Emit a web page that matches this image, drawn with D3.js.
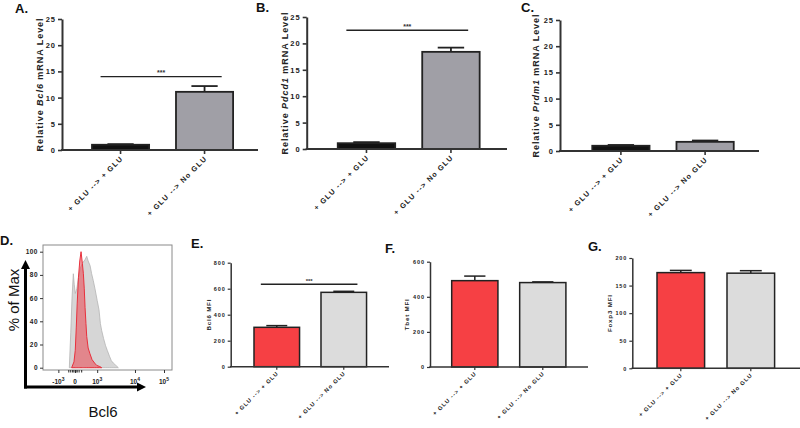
<!DOCTYPE html>
<html><head><meta charset="utf-8">
<script src="https://cdn.jsdelivr.net/npm/d3@7"></script>
<style>
html,body{margin:0;padding:0;background:#fff;}
svg{display:block;font-family:Arial,"Liberation Sans",sans-serif;}
</style></head>
<body><svg id="c" width="800" height="428"></svg>
<script>
// ---------- DATA ----------
const categories = ["+ GLU --> + GLU", "+ GLU --> No GLU"];

const bcl6Mrna = [1.0, 11.1];
const bcl6MrnaErr = [0.12, 1.1];
const pdcd1Mrna = [1.1, 18.4];
const pdcd1MrnaErr = [0.2, 0.8];
const prdm1Mrna = [1.0, 1.75];
const prdm1MrnaErr = [0.15, 0.25];

const bcl6Mfi = [303, 572];
const bcl6MfiErr = [13, 8];
const tbetMfi = [492, 481];
const tbetMfiErr = [26, 4];
const foxp3Mfi = [173.5, 172.5];
const foxp3MfiErr = [4, 4.5];

const mrnaTicks = [0, 5, 10, 15, 20, 25];
const bcl6MfiTicks = [0, 200, 400, 600, 800];
const tbetMfiTicks = [0, 200, 400, 600];
const foxp3MfiTicks = [0, 50, 100, 150, 200];

const sigBcl6Mrna = 14;
const sigPdcd1Mrna = 22.5;
const sigBcl6Mfi = 634;

// histogram (channel units on display scale, % of max)
const histPctTicks = [0, 20, 40, 60, 80, 100];
const histChanTicks = [119, 248, 420, 713, 938];
const histChanLabels = [["-10", "3"], ["0", ""], ["10", "3"], ["10", "4"], ["10", "5"]];
const histMinorTicks = [200, 215, 230, 240, 255, 265, 280, 300];
const greyHist = [[204,0],[215,30],[225,60],[235,81],[242,72],[250,64],[262,68],[275,78],[290,86],[305,90],[325,93],[339,96],[350,92],[365,88],[377,81],[390,75],[403,68],[420,58],[434,50],[445,38],[455,32],[470,25],[485,19],[498,15],[515,10],[530,6],[545,4],[565,2],[584,0]];
const redHist = [[222,0],[240,5],[250,15],[258,35],[265,55],[275,78],[285,92],[295,100],[305,90],[313,81],[320,68],[326,52],[333,38],[339,27],[350,17],[364,12],[380,7],[400,4],[416,2],[440,1],[455,0]];

// ---------- DRAW ----------
const svg = d3.select("#c");
const FONT = 'Arial,"Liberation Sans",sans-serif';

function barPanel(cfg) {
  const g = svg.append("g");
  const x = d3.scaleBand().domain(categories).range([cfg.b0, cfg.b1])
    .paddingInner(cfg.pi).paddingOuter(cfg.po);
  const y = d3.scaleLinear().domain([0, cfg.ymax]).range([cfg.y0, cfg.ytop]);
  const bw = x.bandwidth();

  // error bars (upper only)
  const eg = g.append("g").attr("stroke", "#222").attr("stroke-width", cfg.sw);
  cfg.values.forEach((v, i) => {
    const cx = x(categories[i]) + bw / 2;
    eg.append("line").attr("x1", cx).attr("x2", cx).attr("y1", y(v)).attr("y2", y(v + cfg.err[i]));
    eg.append("line").attr("x1", cx - bw * 0.23).attr("x2", cx + bw * 0.23)
      .attr("y1", y(v + cfg.err[i])).attr("y2", y(v + cfg.err[i]));
  });

  // bars
  g.selectAll("rect.bar").data(cfg.values).join("rect")
    .attr("x", (d, i) => x(categories[i]))
    .attr("y", d => y(d))
    .attr("width", bw)
    .attr("height", d => cfg.y0 - y(d))
    .attr("fill", (d, i) => cfg.colors[i])
    .attr("stroke", "#222").attr("stroke-width", cfg.sw);

  // y axis
  const ya = g.append("g").attr("transform", `translate(${cfg.x0},0)`)
    .call(d3.axisLeft(y).tickValues(cfg.ticks).tickSize(cfg.tick).tickSizeOuter(0).tickPadding(2));
  ya.select(".domain").attr("stroke", "#333").attr("stroke-width", cfg.axw);
  ya.selectAll(".tick line").attr("stroke", "#333").attr("stroke-width", cfg.axw * 0.8);
  ya.selectAll(".tick text").attr("font-family", FONT).attr("font-weight", "bold")
    .attr("font-size", cfg.tfs).attr("letter-spacing", cfg.tls).attr("fill", "#222");

  // x axis line
  g.append("line").attr("x1", cfg.x0 - cfg.axw / 2).attr("x2", cfg.x1)
    .attr("y1", cfg.y0).attr("y2", cfg.y0).attr("stroke", "#333").attr("stroke-width", cfg.axw);
  const xa = g.append("g").attr("transform", `translate(0,${cfg.y0})`)
    .call(d3.axisBottom(x).tickSize(cfg.tick).tickSizeOuter(0).tickFormat(""));
  xa.select(".domain").remove();
  xa.selectAll(".tick line").attr("stroke", "#333").attr("stroke-width", cfg.axw * 0.8);

  // category labels
  categories.forEach(c => {
    const cx = x(c) + bw / 2;
    g.append("text").text(c)
      .attr("transform", `translate(${cx + cfg.lx},${cfg.y0 + cfg.ly}) rotate(-45)`)
      .attr("text-anchor", "end").attr("font-family", FONT).attr("font-weight", "bold")
      .attr("font-size", cfg.cfs).attr("letter-spacing", cfg.cls).attr("fill", "#222");
  });

  // y title
  const t = g.append("text")
    .attr("transform", `translate(${cfg.tx},${(cfg.y0 + cfg.ytop) / 2}) rotate(-90)`)
    .attr("text-anchor", "middle").attr("font-family", FONT).attr("font-weight", "bold")
    .attr("font-size", cfg.yfs).attr("letter-spacing", cfg.yls).attr("fill", "#222");
  cfg.title.forEach(p => {
    t.append("tspan").text(p[0]).attr("font-style", p[1] ? "italic" : "normal");
  });

  // significance
  if (cfg.sig != null) {
    const xs1 = x(categories[0]) + bw * 0.15;
    const xs2 = x(categories[1]) + bw * 0.8;
    g.append("line").attr("x1", xs1).attr("x2", xs2).attr("y1", y(cfg.sig)).attr("y2", y(cfg.sig))
      .attr("stroke", "#222").attr("stroke-width", 1.4);
    g.append("text").text("***").attr("x", (xs1 + xs2) / 2).attr("y", y(cfg.sig) - 1.5)
      .attr("text-anchor", "middle").attr("font-family", FONT).attr("font-weight", "bold")
      .attr("font-size", cfg.sfs).attr("fill", "#333");
  }
  return g;
}

function panelLabel(txt, x, y) {
  svg.append("text").text(txt).attr("x", x).attr("y", y).attr("font-family", FONT)
    .attr("font-weight", "bold").attr("font-size", 13).attr("fill", "#111");
}

const topCommon = {ymax: 25, ticks: mrnaTicks, pi: 0.32, po: 0.3, sw: 1.8, axw: 2, tick: 4,
  tfs: 7.5, tls: 1, cfs: 7.3, cls: 1.2, lx: 3, ly: 9, yfs: 9, yls: 0.95, sfs: 7,
  colors: ["#111111", "#a09fa6"]};

barPanel(Object.assign({}, topCommon, {x0: 62, x1: 258, b0: 66.8, b1: 258.3, y0: 150, ytop: 19,
  values: bcl6Mrna, err: bcl6MrnaErr, sig: sigBcl6Mrna, tx: 43,
  title: [["Relative ", false], ["Bcl6", true], [" mRNA Level", false]]}));
barPanel(Object.assign({}, topCommon, {x0: 306.7, x1: 507, b0: 312.4, b1: 505, y0: 149, ytop: 17,
  values: pdcd1Mrna, err: pdcd1MrnaErr, sig: sigPdcd1Mrna, tx: 288,
  title: [["Relative ", false], ["Pdcd1", true], [" mRNA Level", false]]}));
barPanel(Object.assign({}, topCommon, {x0: 560, x1: 759, b0: 567, b1: 759, y0: 151, ytop: 20,
  values: prdm1Mrna, err: prdm1MrnaErr, sig: null, tx: 539,
  title: [["Relative ", false], ["Prdm1", true], [" mRNA Level", false]]}));

const botCommon = {pi: 0.32, po: 0.25, sw: 1.5, axw: 1.5, tick: 3,
  tfs: 5.5, tls: 0.9, cfs: 5.7, cls: 1, lx: 2, ly: 7, yfs: 6.2, yls: 0.8, sfs: 6,
  colors: ["#f64044", "#dcdcdc"]};

barPanel(Object.assign({}, botCommon, {x0: 230.7, x1: 389, b0: 237.25, b1: 383.3, y0: 366.7, ytop: 262.7,
  ymax: 800, ticks: bcl6MfiTicks, values: bcl6Mfi, err: bcl6MfiErr, sig: sigBcl6Mfi, tx: 211,
  title: [["Bcl6 MFI", false]]}));
barPanel(Object.assign({}, botCommon, {x0: 430, x1: 588, b0: 434.7, b1: 582.9, y0: 367, ytop: 261.7,
  ymax: 600, ticks: tbetMfiTicks, values: tbetMfi, err: tbetMfiErr, sig: null, tx: 409,
  title: [["Tbet MFI", false]]}));
barPanel(Object.assign({}, botCommon, {x0: 632.3, x1: 800, b0: 639.5, b1: 792.1, y0: 368.3, ytop: 258,
  ymax: 200, ticks: foxp3MfiTicks, values: foxp3Mfi, err: foxp3MfiErr, sig: null, tx: 612,
  title: [["Foxp3 MFI", false]]}));

// ---------- Histogram D ----------
(function () {
  const fx0 = 43, fx1 = 172, fy0 = 245, fy1 = 370;
  const x = d3.scaleLinear().domain([0, 1000]).range([fx0, fx1]);
  const y = d3.scaleLinear().domain([0, 100]).range([367.7, 251.7]);
  const g = svg.append("g");
  const area = d3.area().x(d => x(d[0])).y0(y(0)).y1(d => y(d[1])).curve(d3.curveLinear);
  g.append("path").datum(greyHist).attr("d", area).attr("fill", "#d6d6d6")
    .attr("stroke", "#b4b4b4").attr("stroke-width", 0.8);
  g.append("path").datum(redHist).attr("d", area).attr("fill", "rgba(236,70,80,0.55)")
    .attr("stroke", "#e8303c").attr("stroke-width", 1);
  g.append("rect").attr("x", fx0).attr("y", fy0).attr("width", fx1 - fx0).attr("height", fy1 - fy0)
    .attr("fill", "none").attr("stroke", "#8a8a8a").attr("stroke-width", 1);

  // y ticks
  const ya = g.append("g").attr("transform", `translate(${fx0},0)`)
    .call(d3.axisLeft(y).tickValues(histPctTicks).tickSize(3).tickSizeOuter(0).tickPadding(2));
  ya.select(".domain").remove();
  ya.selectAll(".tick line").attr("stroke", "#333");
  ya.selectAll(".tick text").attr("font-family", FONT).attr("font-weight", "bold")
    .attr("font-size", 6.5).attr("letter-spacing", 0.5).attr("fill", "#222");

  // x ticks
  const xa = g.append("g").attr("transform", `translate(0,${fy1})`)
    .call(d3.axisBottom(x).tickValues(histChanTicks).tickSize(3).tickSizeOuter(0).tickFormat(""));
  xa.select(".domain").remove();
  xa.selectAll(".tick line").attr("stroke", "#333");
  g.selectAll("line.minor").data(histMinorTicks).join("line").attr("class", "minor")
    .attr("x1", d => x(d)).attr("x2", d => x(d)).attr("y1", fy1).attr("y2", fy1 + 2.5)
    .attr("stroke", "#222").attr("stroke-width", 1);
  histChanTicks.forEach((c, i) => {
    const lab = histChanLabels[i];
    const t = g.append("text").attr("x", x(c)).attr("y", 384).attr("text-anchor", "middle")
      .attr("font-family", FONT).attr("font-weight", "bold").attr("font-size", 6.5).attr("fill", "#222");
    t.append("tspan").text(lab[0]);
    if (lab[1]) t.append("tspan").text(lab[1]).attr("dy", -3.5).attr("font-size", 5);
  });

  // arrows
  const ax = 25.5, ay = 387;
  g.append("line").attr("x1", ax).attr("x2", ax).attr("y1", ay + 1.5).attr("y2", 268)
    .attr("stroke", "#000").attr("stroke-width", 3);
  g.append("path").attr("d", `M${ax - 4.5},269 L${ax},260 L${ax + 4.5},269 Z`).attr("fill", "#000");
  g.append("line").attr("x1", ax - 1.5).attr("x2", 138).attr("y1", ay).attr("y2", ay)
    .attr("stroke", "#000").attr("stroke-width", 3);
  g.append("path").attr("d", `M137,${ay - 4.5} L146,${ay} L137,${ay + 4.5} Z`).attr("fill", "#000");

  g.append("text").text("% of Max").attr("transform", "translate(19,300) rotate(-90)")
    .attr("text-anchor", "middle").attr("font-family", FONT).attr("font-size", 15).attr("fill", "#111");
  g.append("text").text("Bcl6").attr("x", 103).attr("y", 417)
    .attr("text-anchor", "middle").attr("font-family", FONT).attr("font-size", 15).attr("fill", "#111");
})();

panelLabel("A.", 15, 13);
panelLabel("B.", 256, 12);
panelLabel("C.", 521, 12);
panelLabel("D.", 0, 245);
panelLabel("E.", 191, 248);
panelLabel("F.", 385, 253);
panelLabel("G.", 588, 251);
</script>
</body></html>
